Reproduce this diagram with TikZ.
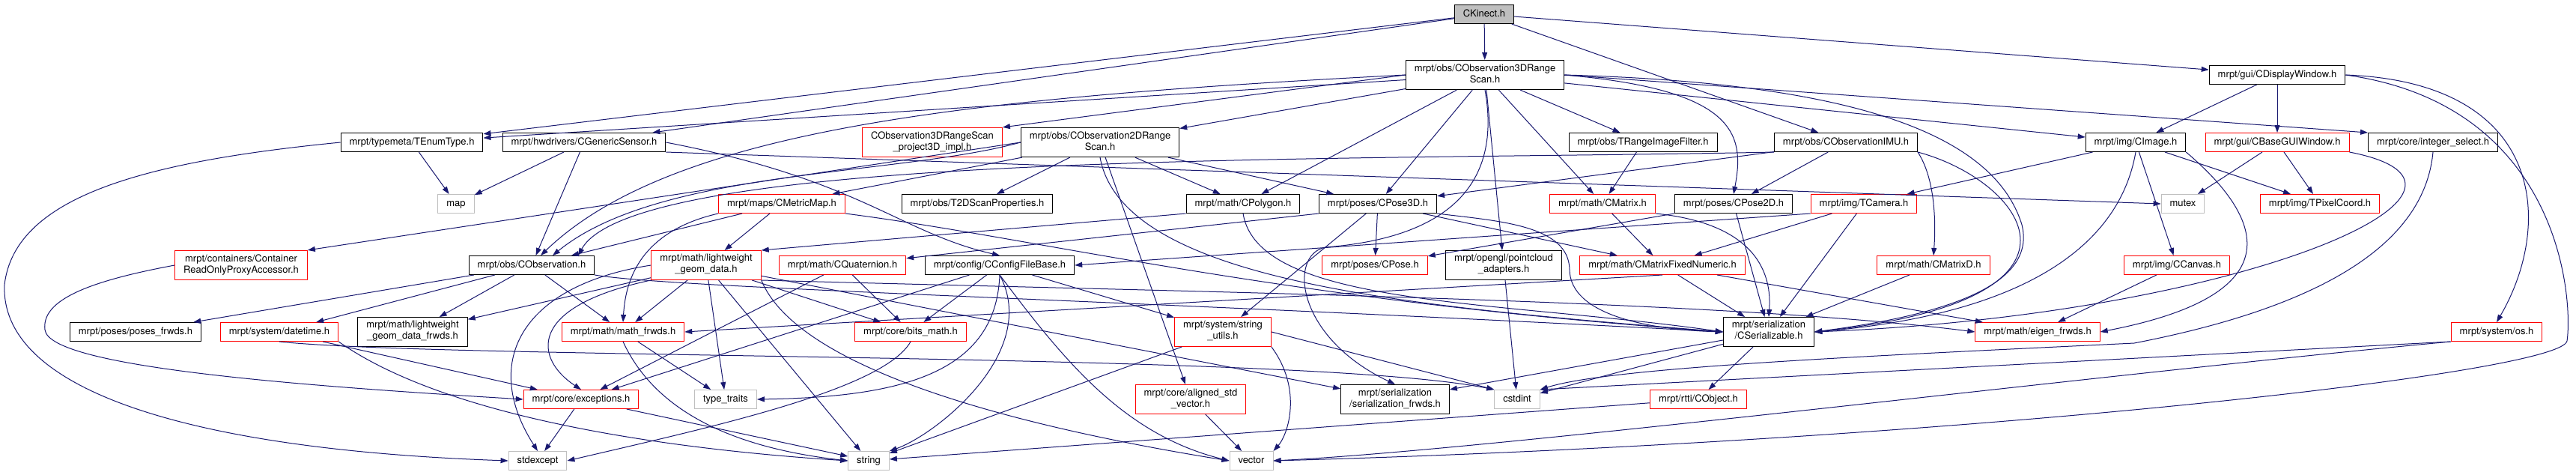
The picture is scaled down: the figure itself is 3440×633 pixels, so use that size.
\documentclass[tikz,border=0pt]{standalone}
\usepackage{fontspec}
\setmainfont{TeX Gyre Heros}
\usepackage{xcolor}
\usepackage{tikz}
\usetikzlibrary{arrows.meta}

\definecolor{edgeblue}{HTML}{191970}
\definecolor{sysgray}{HTML}{BFBFBF}

\begin{document}
\begin{tikzpicture}[x=1pt,y=-1pt,
      font=\fontsize{13}{15}\selectfont,
      hdr/.style={draw=black,line width=1pt,fill=white,align=center,
        minimum height=25pt,inner xsep=11.5pt,inner ysep=5pt,
        execute at begin node=\strut,execute at end node=\strut},
      trunc/.style={hdr,draw=red},
      sys/.style={hdr,draw=sysgray},
      root/.style={hdr,fill=sysgray},
      dep/.style={draw=edgeblue,line width=1pt,-{Triangle[length=10pt,width=7pt]}}]
    \useasboundingbox[fill=white] (0,0) rectangle (3440,633);

    \node[root]  (kinect)      at (1982,19)  {CKinect.h};
    \node[hdr]   (obs3d)       at (1983,100) {mrpt/obs/CObservation3DRange\\Scan.h};
    \node[hdr]   (dispwin)     at (3041,100) {mrpt/gui/CDisplayWindow.h};

    \node[hdr]   (enumtype)    at (550,190)  {mrpt/typemeta/TEnumType.h};
    \node[hdr]   (gensensor)   at (780,190)  {mrpt/hwdrivers/CGenericSensor.h};
    \node[trunc] (proj3d)      at (1245,190) {CObservation3DRangeScan\\\_project3D\_impl.h};
    \node[hdr]   (obs2d)       at (1469,190) {mrpt/obs/CObservation2DRange\\Scan.h};
    \node[hdr]   (rangefilter) at (2194,190) {mrpt/obs/TRangeImageFilter.h};
    \node[hdr]   (obsimu)      at (2465,190) {mrpt/obs/CObservationIMU.h};
    \node[hdr]   (cimage)      at (2852,190) {mrpt/img/CImage.h};
    \node[trunc] (guiwin)      at (3041,190) {mrpt/gui/CBaseGUIWindow.h};
    \node[hdr]   (intsel)      at (3249,190) {mrpt/core/integer\_select.h};

    \node[sys]   (map)         at (609,272)  {map};
    \node[trunc] (metricmap)   at (1044,272) {mrpt/maps/CMetricMap.h};
    \node[hdr]   (scanprops)   at (1305,272) {mrpt/obs/T2DScanProperties.h};
    \node[hdr]   (polygon)     at (1660,272) {mrpt/math/CPolygon.h};
    \node[hdr]   (pose3d)      at (1840,272) {mrpt/poses/CPose3D.h};
    \node[trunc] (cmatrix)     at (2140,272) {mrpt/math/CMatrix.h};
    \node[hdr]   (pose2d)      at (2315,272) {mrpt/poses/CPose2D.h};
    \node[trunc] (tcamera)     at (2489,272) {mrpt/img/TCamera.h};
    \node[sys]   (mutex)       at (2915,272) {mutex};
    \node[trunc] (pixcoord)    at (3098,272) {mrpt/img/TPixelCoord.h};

    \node[trunc] (roproxy)     at (322,354)  {mrpt/containers/Container\\ReadOnlyProxyAccessor.h};
    \node[hdr]   (obs)         at (710,354)  {mrpt/obs/CObservation.h};
    \node[trunc] (geomdata)    at (943,354)  {mrpt/math/lightweight\\\_geom\_data.h};
    \node[trunc] (quat)        at (1125,354) {mrpt/math/CQuaternion.h};
    \node[hdr]   (cfgfile)     at (1335,354) {mrpt/config/CConfigFileBase.h};
    \node[trunc] (cpose)       at (1836,354) {mrpt/poses/CPose.h};
    \node[hdr]   (ptcloud)     at (2008,354) {mrpt/opengl/pointcloud\\\_adapters.h};
    \node[trunc] (fixnum)      at (2220,354) {mrpt/math/CMatrixFixedNumeric.h};
    \node[trunc] (matrixd)     at (2582,354) {mrpt/math/CMatrixD.h};
    \node[trunc] (canvas)      at (2907,354) {mrpt/img/CCanvas.h};

    \node[hdr]   (posesfw)     at (181,443)  {mrpt/poses/poses\_frwds.h};
    \node[trunc] (datetime)    at (373,443)  {mrpt/system/datetime.h};
    \node[hdr]   (geomfw)      at (551,443)  {mrpt/math/lightweight\\\_geom\_data\_frwds.h};
    \node[trunc] (mathfw)      at (832,443)  {mrpt/math/math\_frwds.h};
    \node[trunc] (bitsmath)    at (1216,443) {mrpt/core/bits\_math.h};
    \node[trunc] (strutils)    at (1633,443) {mrpt/system/string\\\_utils.h};
    \node[hdr]   (serial)      at (2362,443) {mrpt/serialization\\/CSerializable.h};
    \node[trunc] (eigenfw)     at (2721,443) {mrpt/math/eigen\_frwds.h};
    \node[trunc] (os)          at (3334,443) {mrpt/system/os.h};

    \node[trunc] (exceptions)  at (776,533)  {mrpt/core/exceptions.h};
    \node[sys]   (typetraits)  at (969,533)  {type\_traits};
    \node[trunc] (alignedvec)  at (1590,533) {mrpt/core/aligned\_std\\\_vector.h};
    \node[hdr]   (serialfw)    at (1863,533) {mrpt/serialization\\/serialization\_frwds.h};
    \node[sys]   (cstdint)     at (2026,533) {cstdint};
    \node[trunc] (cobject)     at (2268,533) {mrpt/rtti/CObject.h};

    \node[sys]   (stdexcept)   at (718,615)  {stdexcept};
    \node[sys]   (string)      at (1160,615) {string};
    \node[sys]   (vector)      at (1671,615) {vector};

    \draw[dep] (kinect) -- (obs3d);
    \draw[dep] (kinect) -- (enumtype);
    \draw[dep] (kinect) -- (gensensor);
    \draw[dep] (kinect) -- (obsimu);
    \draw[dep] (kinect) -- (dispwin);

    \draw[dep] (obs3d) -- (enumtype);
    \draw[dep] (obs3d.west) .. controls (1300,130) and (900,170) .. ([xshift=12pt]obs.north);
    \draw[dep] (obs3d.west) -- (proj3d.north east);
    \draw[dep] (obs3d) -- (obs2d);
    \draw[dep] (obs3d) -- (polygon);
    \draw[dep] (obs3d) -- (pose3d);
    \draw[dep] (obs3d.south) .. controls (2010,270) and (1900,320) .. (1770,330)
      .. controls (1720,340) and (1730,450) .. (serialfw.north);
    \draw[dep] (obs3d) -- (ptcloud);
    \draw[dep] (obs3d) -- (cmatrix);
    \draw[dep] (obs3d) -- (rangefilter);
    \draw[dep] (obs3d) -- (cimage);
    \draw[dep] (obs3d.east) -- (intsel.north west);
    \draw[dep] (obs3d.east) .. controls (2450,110) and (2660,170) .. (2700,300)
      .. controls (2720,380) and (2600,420) .. (serial.east);
    \draw[dep] (obs3d.east) .. controls (2320,120) and (2330,180) .. (pose2d.north);

    \draw[dep] (dispwin) -- (cimage);
    \draw[dep] (dispwin) -- (guiwin);
    \draw[dep] (dispwin.east) .. controls (3400,110) and (3410,300) .. (os.north);
    \draw[dep] (dispwin.east) .. controls (3420,140) and (3436,400) .. (3428,455)
      .. controls (3421,499) and (2600,590) .. (vector.east);

    \draw[dep] (enumtype) -- (map);
    \draw[dep] (enumtype.west) .. controls (200,215) and (20,260) .. (6,380)
      .. controls (0,520) and (250,600) .. (stdexcept.west);
    \draw[dep] (gensensor) -- (map);
    \draw[dep] (gensensor) -- (obs);
    \draw[dep] (gensensor.south east) -- (mutex.west);
    \draw[dep] (gensensor.east) .. controls (1150,240) and (1200,310) .. (cfgfile.north);
    \draw[dep] (obs2d.west) -- (roproxy.north east);
    \draw[dep] (obs2d.west) .. controls (1200,235) and (880,225) .. ([xshift=28pt]obs.north);
    \draw[dep] (obs2d) -- (metricmap);
    \draw[dep] (obs2d) -- (scanprops);
    \draw[dep] (obs2d) -- (polygon);
    \draw[dep] (obs2d) -- (pose3d);
    \draw[dep] (obs2d) -- (alignedvec);
    \draw[dep] (obs2d.south) .. controls (1500,380) and (1900,410) .. (serial.west);
    \draw[dep] (rangefilter) -- (cmatrix);
    \draw[dep] (obsimu.south west) .. controls (1800,215) and (850,200) .. ([xshift=62pt]obs.north);
    \draw[dep] (obsimu) -- (pose3d);
    \draw[dep] (obsimu) -- (pose2d);
    \draw[dep] (obsimu.south east) .. controls (2585,240) and (2585,300) .. (matrixd.north);
    \draw[dep] (obsimu.south east) .. controls (2700,240) and (2830,400) .. (serial.east);
    \draw[dep] (cimage) -- (tcamera);
    \draw[dep] (cimage) -- (pixcoord);
    \draw[dep] (cimage) -- (canvas);
    \draw[dep] (cimage.south) .. controls (2830,330) and (2700,420) .. (serial.east);
    \draw[dep] (cimage.south east) .. controls (3010,280) and (3080,390) .. (eigenfw.east);
    \draw[dep] (guiwin) -- (mutex);
    \draw[dep] (guiwin) -- (pixcoord);
    \draw[dep] (guiwin.south east) .. controls (3380,250) and (3000,420) .. (serial.east);
    \draw[dep] (intsel.south) .. controls (3240,300) and (3150,400) .. (2850,458)
      .. controls (2500,475) and (2150,490) .. (cstdint.north east);

    \draw[dep] (metricmap) -- (obs);
    \draw[dep] (metricmap) -- (geomdata);
    \draw[dep] (metricmap.south west) .. controls (850,310) and (835,380) .. (mathfw.north);
    \draw[dep] (metricmap.south east) .. controls (1400,320) and (1700,400) .. (serial.west);
    \draw[dep] (polygon.south west) -- (geomdata.north east);
    \draw[dep] (polygon.south) .. controls (1680,410) and (2000,400) .. (serial.west);
    \draw[dep] (pose3d.south west) -- (quat);
    \draw[dep] (pose3d) -- (cpose);
    \draw[dep] (pose3d) -- (strutils);
    \draw[dep] (pose3d) -- (fixnum);
    \draw[dep] (pose3d.south east) .. controls (2000,295) and (2095,300) .. (2096,360)
      .. controls (2097,420) and (2200,440) .. (serial.west);
    \draw[dep] (cmatrix) -- (fixnum);
    \draw[dep] (cmatrix.south east) .. controls (2360,300) and (2365,380) .. (serial.north);
    \draw[dep] (pose2d.south west) -- (cpose);
    \draw[dep] (pose2d) -- (serial);
    \draw[dep] (tcamera.south west) -- (cfgfile.east);
    \draw[dep] (tcamera) -- (fixnum);
    \draw[dep] (tcamera) -- (serial);

    \draw[dep] (roproxy.west) .. controls (120,375) and (55,400) .. (60,440)
      .. controls (65,490) and (400,515) .. (exceptions.west);
    \draw[dep] (obs) -- (posesfw);
    \draw[dep] (obs) -- (datetime);
    \draw[dep] (obs) -- (geomfw);
    \draw[dep] (obs) -- (mathfw);
    \draw[dep] (obs.south east) .. controls (900,385) and (1500,400) .. (serial.west);
    \draw[dep] (geomdata) -- (geomfw);
    \draw[dep] (geomdata) -- (mathfw);
    \draw[dep] (geomdata) -- (typetraits);
    \draw[dep] (geomdata.south west) .. controls (700,410) and (715,480) .. (exceptions.north);
    \draw[dep] (geomdata.west) .. controls (700,380) and (640,480) .. (stdexcept.north);
    \draw[dep] (geomdata) -- (bitsmath);
    \draw[dep] (geomdata.south east) .. controls (1060,480) and (1300,560) .. (vector.west);
    \draw[dep] (geomdata) -- (string);
    \draw[dep] (geomdata) -- (serialfw);
    \draw[dep] (geomdata.south east) .. controls (1600,390) and (2300,400) .. (eigenfw.west);
    \draw[dep] (quat) -- (bitsmath);
    \draw[dep] (quat) -- (exceptions);
    \draw[dep] (cfgfile) -- (bitsmath);
    \draw[dep] (cfgfile) -- (strutils);
    \draw[dep] (cfgfile) -- (exceptions);
    \draw[dep] (cfgfile.south) .. controls (1330,500) and (1200,530) .. (typetraits.east);
    \draw[dep] (cfgfile.south) .. controls (1390,470) and (1250,580) .. (string.north east);
    \draw[dep] (cfgfile.south) .. controls (1420,480) and (1500,580) .. (vector.west);
    \draw[dep] (ptcloud) -- (cstdint);
    \draw[dep] (fixnum.south) -- (mathfw.east);
    \draw[dep] (fixnum) -- (eigenfw);
    \draw[dep] (fixnum) -- (serial);
    \draw[dep] (matrixd) -- (serial);
    \draw[dep] (canvas) -- (eigenfw);

    \draw[dep] (datetime) -- (exceptions);
    \draw[dep] (datetime.south east) .. controls (600,560) and (900,600) .. (string.west);
    \draw[dep] (datetime.south) .. controls (600,480) and (1750,470) .. (cstdint.north west);
    \draw[dep] (mathfw) -- (typetraits);
    \draw[dep] (mathfw.south) .. controls (880,560) and (1000,600) .. (string.west);
    \draw[dep] (bitsmath.south) .. controls (1180,520) and (950,570) .. (stdexcept.east);
    \draw[dep] (strutils.east) -- (cstdint.north west);
    \draw[dep] (strutils) -- (string);
    \draw[dep] (strutils.south east) .. controls (1740,520) and (1720,580) .. (vector.north east);
    \draw[dep] (serial) -- (serialfw);
    \draw[dep] (serial) -- (cstdint);
    \draw[dep] (serial) -- (cobject);
    \draw[dep] (os.south west) -- (cstdint.north east);
    \draw[dep] (os.south west) .. controls (2800,500) and (2000,600) .. (vector.east);

    \draw[dep] (exceptions) -- (stdexcept);
    \draw[dep] (exceptions) -- (string);
    \draw[dep] (alignedvec) -- (vector);
    \draw[dep] (cobject) -- (string);
\end{tikzpicture}
\end{document}
